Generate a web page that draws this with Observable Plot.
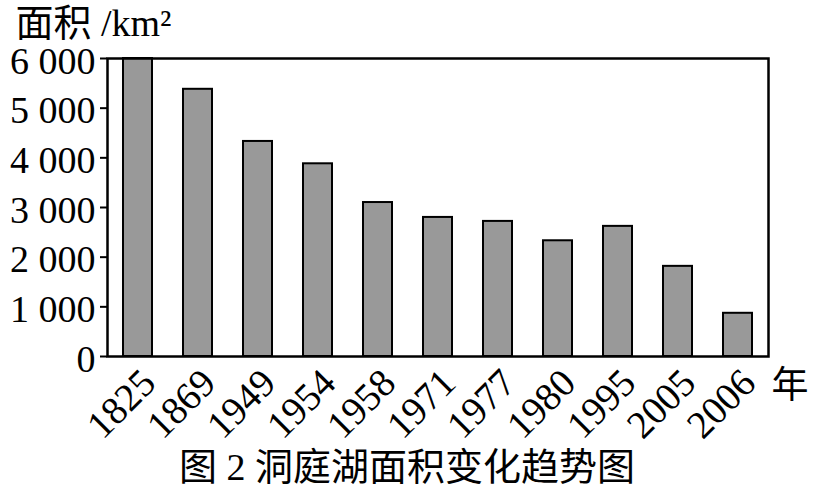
<!DOCTYPE html>
<html>
<head>
<meta charset="utf-8">
<script src="https://cdn.jsdelivr.net/npm/d3@7"></script>
<script src="https://cdn.jsdelivr.net/npm/@observablehq/plot@0.6"></script>
<style>
  html, body { margin: 0; padding: 0; background: white; }
</style>
</head>
<body>
<div id="chart"></div>
<script>
const years = ["1825", "1869", "1949", "1954", "1958", "1971", "1977", "1980", "1995", "2005", "2006"];
const areas = [6000, 5380, 4330, 3880, 3100, 2800, 2720, 2330, 2620, 1815, 870];
const yTicks = [0, 1000, 2000, 3000, 4000, 5000, 6000];
const yTickLabels = ["0", "1 000", "2 000", "3 000", "4 000", "5 000", "6 000"];
const yTitle = "面积 /km²";
const xUnit = "年";
const caption = "图 2 洞庭湖面积变化趋势图";

const data = years.map((year, i) => ({year, area: areas[i]}));
const serif = "'Liberation Serif', 'Noto Sans CJK SC', serif";

const chart = Plot.plot({
  width: 818,
  height: 500,
  marginLeft: 107,
  marginRight: 50,
  marginTop: 58,
  marginBottom: 144,
  style: {fontFamily: serif, background: "white", color: "black"},
  x: {domain: years, paddingInner: 0.52, paddingOuter: 0.21, axis: null},
  y: {domain: [0, 6000], axis: null},
  marks: [
    Plot.barY(data, {x: "year", y: "area", fill: "#999999", stroke: "black", strokeWidth: 2}),
    Plot.frame({stroke: "black", strokeWidth: 2.5}),
    Plot.axisY({
      ticks: yTicks,
      tickFormat: () => "",
      tickSize: 7,
      strokeWidth: 2,
      label: null
    }),
    Plot.axisY({
      ticks: yTicks,
      tickFormat: d => yTickLabels[yTicks.indexOf(d)],
      tickSize: 0,
      tickPadding: 12,
      fontSize: 38,
      dy: 3,
      label: null
    }),
    Plot.axisX({
      tickRotate: -45,
      tickSize: 0,
      tickPadding: 3,
      fontSize: 39,
      dx: 11,
      dy: 17,
      label: null
    }),
    Plot.text([yTitle], {
      frameAnchor: "top-left", dx: -92, dy: -23,
      textAnchor: "start", lineAnchor: "bottom", fontSize: 38
    }),
    Plot.text([xUnit], {
      frameAnchor: "bottom-right", dx: 3, dy: 41,
      textAnchor: "start", lineAnchor: "bottom", fontSize: 37
    }),
    Plot.text([caption], {
      frameAnchor: "bottom", dx: -31, dy: 123,
      textAnchor: "middle", lineAnchor: "bottom", fontSize: 38
    })
  ]
});
document.getElementById("chart").appendChild(chart);
</script>
</body>
</html>
